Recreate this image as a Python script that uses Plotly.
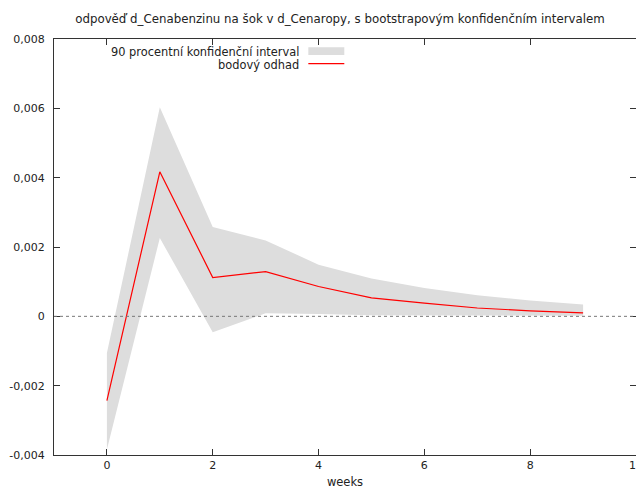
import plotly.graph_objects as go

weeks = [0, 1, 2, 3, 4, 5, 6, 7, 8, 9]
point_est = [-0.00243, 0.00417, 0.00112, 0.00129, 0.00086, 0.00053, 0.00038, 0.00024, 0.00016, 0.00010]
upper = [-0.00106, 0.00603, 0.00258, 0.00219, 0.00149, 0.00109, 0.00082, 0.00061, 0.00046, 0.00034]
lower = [-0.00384, 0.00226, -0.00046, 0.00009, 0.00007, 0.00003, 0.00002, 0.00002, 0.00002, 0.00002]

x_ticks = [0, 2, 4, 6, 8, 10]
x_ticktext = ["0", "2", "4", "6", "8", "10"]
y_ticks = [-0.004, -0.002, 0, 0.002, 0.004, 0.006, 0.008]
y_ticktext = ["-0,004", "-0,002", "0", "0,002", "0,004", "0,006", "0,008"]

title_text = "odpověď d_Cenabenzinu na šok v d_Cenaropy, s bootstrapovým konfidenčním intervalem"
band_label = "90 procentní konfidenční interval"
line_label = "bodový odhad"

FONT = "DejaVu Sans"
BAND = "#dddddd"
RED = "#ff0000"
AXC = "#333333"

# The page body has an 8px default margin; the figure is sized so it fits the window.
W, H = 636, 487

fig = go.Figure()
fig.add_trace(go.Scatter(x=weeks + weeks[::-1], y=upper + lower[::-1], fill="toself",
                         fillcolor=BAND, line=dict(width=0), mode="lines",
                         hoverinfo="skip", showlegend=False))
fig.add_trace(go.Scatter(x=weeks, y=point_est, mode="lines",
                         line=dict(color=RED, width=1.2), showlegend=False))

# zero reference line (dotted)
fig.add_shape(type="line", xref="paper", x0=0, x1=1, yref="y", y0=0, y1=0,
              line=dict(color="#777777", width=1, dash="dot"), layer="above")

# manual gnuplot-style legend
fig.add_annotation(xref="paper", yref="paper", x=0.4236, y=0.968, text=band_label,
                   showarrow=False, xanchor="right", yanchor="middle",
                   font=dict(family=FONT, size=11.4, color="#222222"))
fig.add_annotation(xref="paper", yref="paper", x=0.4236, y=0.9365, text=line_label,
                   showarrow=False, xanchor="right", yanchor="middle",
                   font=dict(family=FONT, size=11.4, color="#222222"))
fig.add_shape(type="rect", xref="paper", yref="paper", x0=0.437, x1=0.4988, y0=0.9615, y1=0.980,
              fillcolor=BAND, line=dict(width=0))
fig.add_shape(type="line", xref="paper", yref="paper", x0=0.437, x1=0.4988, y0=0.9406, y1=0.9406,
              line=dict(color=RED, width=1.2))

fig.update_layout(
    width=W, height=H,
    margin=dict(l=46, r=8, t=31, b=40, autoexpand=False),
    paper_bgcolor="white", plot_bgcolor="white",
    font=dict(family=FONT, size=11, color="#222222"),
    title=dict(text=title_text, x=332 / W, xanchor="center", y=1 - 11 / H, yanchor="middle",
               yref="container", font=dict(family=FONT, size=11.8, color="#222222")),
    showlegend=False,
    xaxis=dict(range=[-1, 10], tickvals=x_ticks, ticktext=x_ticktext, ticks="inside", ticklen=6,
               tickcolor=AXC, showline=True, linecolor=AXC, linewidth=1, mirror="ticks",
               showgrid=False, zeroline=False, automargin=False,
               title=dict(text="weeks", standoff=6, font=dict(size=11.5))),
    yaxis=dict(range=[-0.004, 0.008], tickvals=y_ticks, ticktext=y_ticktext, ticks="inside", ticklen=6,
               tickcolor=AXC, showline=True, linecolor=AXC, linewidth=1, mirror="ticks",
               showgrid=False, zeroline=False, ticklabelstandoff=6, automargin=False),
)

fig.write_html("out.html")
